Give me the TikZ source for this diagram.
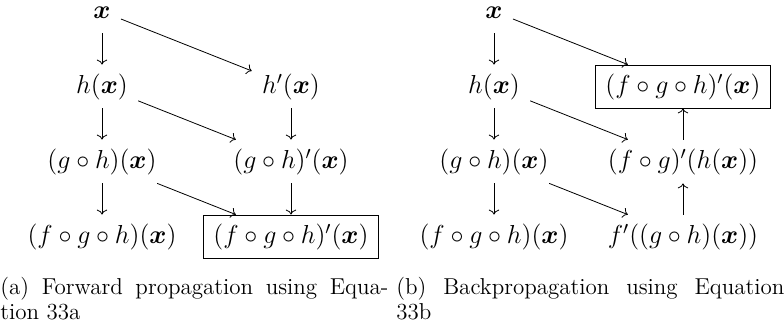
\RequirePackage{fix-cm}
\documentclass[tikz,border=0pt]{standalone}
\usepackage{amsmath}
\usepackage{tikz}
\usetikzlibrary{arrows.meta}
\newcommand{\xv}{\boldsymbol{x}}
\tikzset{
  cell/.style={anchor=base, inner xsep=5pt, inner ysep=3.5pt, text height=11pt, text depth=3.5pt, font=\fontsize{13}{15}\selectfont},
  boxcell/.style={cell, draw, thin},
  arrow/.style={->, thin},
  subcap/.style={anchor=base west, inner sep=0pt, text width=194pt, align=justify, font=\fontsize{11.5}{12.5}\selectfont}
}

\begin{document}
\begin{tikzpicture}[x=1pt, y=1pt]
\useasboundingbox (0,0) rectangle (392,162);
% (a) forward
\node[cell] (fx) at (51,152.5) {$\xv$};
\node[cell] (fh) at (51,115) {$h(\xv)$};
\node[cell] (fgh) at (51,77.5) {$(g\circ h)(\xv)$};
\node[cell] (ffgh) at (51,40) {$(f\circ g\circ h)(\xv)$};
\node[cell] (fhp) at (145.5,115) {$h'(\xv)$};
\node[cell] (fghp) at (145.5,77.5) {$(g\circ h)'(\xv)$};
\node[boxcell] (ffghp) at (145.5,40) {$(f\circ g\circ h)'(\xv)$};
\draw[arrow] (fx) -- (fh);
\draw[arrow] (fh) -- (fgh);
\draw[arrow] (fgh) -- (ffgh);
\draw[arrow] (fx) -- (fhp);
\draw[arrow] (fh) -- (fghp);
\draw[arrow] (fgh) -- (ffghp);
\draw[arrow] (fhp) -- (fghp);
\draw[arrow] (fghp) -- (ffghp);
\node[subcap] (capa) at (0,14.5) {(a) Forward propagation using Equa-\linebreak tion 33a};
% (b) backward
\node[cell] (bx) at (247,152.5) {$\xv$};
\node[cell] (bh) at (247,115) {$h(\xv)$};
\node[cell] (bgh) at (247,77.5) {$(g\circ h)(\xv)$};
\node[cell] (bfgh) at (247,40) {$(f\circ g\circ h)(\xv)$};
\node[boxcell] (bfghp) at (341.5,115) {$(f\circ g\circ h)'(\xv)$};
\node[cell] (bfgp) at (341.5,77.5) {$(f\circ g)'(h(\xv))$};
\node[cell] (bfp) at (341.5,40) {$f'((g\circ h)(\xv))$};
\draw[arrow] (bx) -- (bh);
\draw[arrow] (bh) -- (bgh);
\draw[arrow] (bgh) -- (bfgh);
\draw[arrow] (bx) -- (bfghp);
\draw[arrow] (bh) -- (bfgp);
\draw[arrow] (bgh) -- (bfp);
\draw[arrow] (bfp) -- (bfgp);
\draw[arrow] (bfgp) -- (bfghp);
\node[subcap] (capb) at (198,14.5) {(b) Backpropagation using Equation\linebreak 33b};
\end{tikzpicture}
\end{document}
